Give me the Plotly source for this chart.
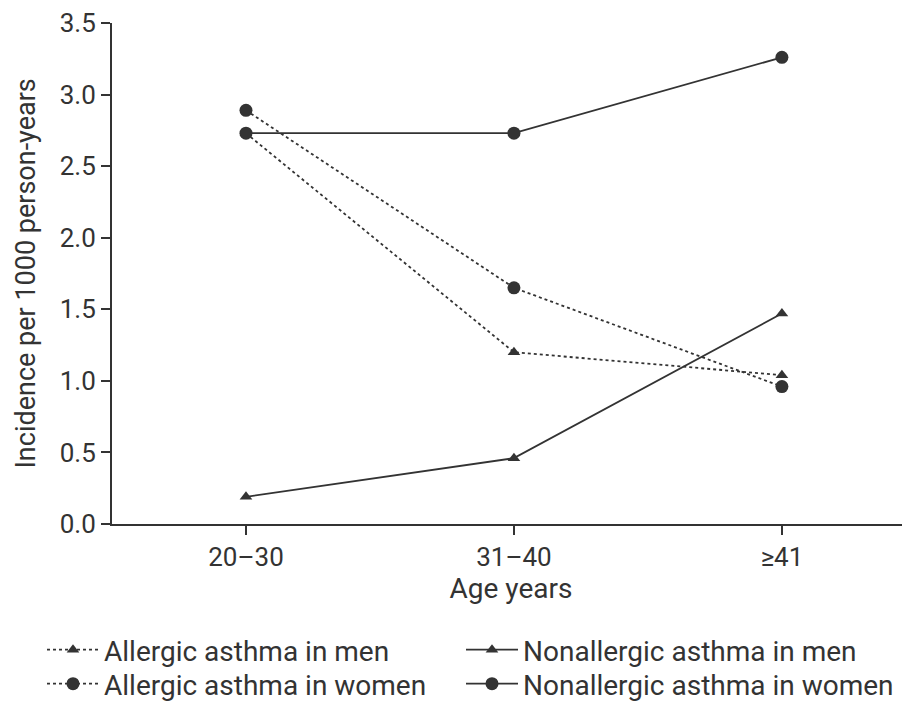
import plotly.graph_objects as go

ages = ["20\u201330", "31\u201340", "\u226541"]
allergic_men = [2.73, 1.20, 1.04]
allergic_women = [2.89, 1.65, 0.96]
nonallergic_men = [0.19, 0.46, 1.47]
nonallergic_women = [2.73, 2.73, 3.26]
y_ticks = [0.0, 0.5, 1.0, 1.5, 2.0, 2.5, 3.0, 3.5]

C = "#333333"
FONT = "Roboto, sans-serif"
W, H = 902, 696  # page body adds an 8px margin

fig = go.Figure()
series = [
    ("Allergic asthma in men", allergic_men, "3px,3px", "triangle-up", 11, "legend"),
    ("Nonallergic asthma in men", nonallergic_men, "solid", "triangle-up", 11, "legend2"),
    ("Allergic asthma in women", allergic_women, "3px,3px", "circle", 13, "legend3"),
    ("Nonallergic asthma in women", nonallergic_women, "solid", "circle", 13, "legend4"),
]
for name, vals, dash, sym, sz, leg in series:
    fig.add_trace(go.Scatter(
        x=ages, y=vals, name=name, mode="lines+markers",
        line=dict(color=C, width=1.8, dash=dash),
        marker=dict(symbol=sym, size=sz, color=C),
        legend=leg,
    ))

leg_common = dict(
    orientation="v", xref="container", yref="container",
    xanchor="left", yanchor="middle",
    font=dict(size=28, family=FONT, color=C),
    itemwidth=52, tracegroupgap=0, bgcolor="rgba(0,0,0,0)",
)
col_x = [34 / W, 453 / W]
row_y = [1 - 642 / H, 1 - 676 / H]

fig.update_layout(
    width=W, height=H,
    margin=dict(l=104, r=0, t=15, b=180, autoexpand=False),
    paper_bgcolor="white", plot_bgcolor="white",
    font=dict(family=FONT, size=26, color=C),
    showlegend=True,
    legend=dict(x=col_x[0], y=row_y[0], **leg_common),
    legend2=dict(x=col_x[1], y=row_y[0], **leg_common),
    legend3=dict(x=col_x[0], y=row_y[1], **leg_common),
    legend4=dict(x=col_x[1], y=row_y[1], **leg_common),
    xaxis=dict(
        type="category", range=[-0.5, 2.478], automargin=False,
        showline=True, linecolor=C, linewidth=2,
        ticks="outside", ticklen=9, tickwidth=1.5, tickcolor=C,
        showgrid=False, zeroline=False,
        title=dict(text="Age years", standoff=6, font=dict(size=28)),
        tickfont=dict(size=26),
    ),
    yaxis=dict(
        range=[0, 3.5], tickvals=y_ticks, tickformat=".1f", automargin=False,
        showline=True, linecolor=C, linewidth=2,
        ticks="outside", ticklen=9, tickwidth=1.5, tickcolor=C,
        showgrid=False, zeroline=False,
        tickfont=dict(size=26),
    ),
    annotations=[dict(
        text="Incidence per 1000 person-years", textangle=-90,
        xref="paper", yref="paper", x=(17 - 104) / 798, y=0.5,
        xanchor="center", yanchor="middle", showarrow=False,
        font=dict(size=27, family=FONT, color=C),
    )],
)

fig.write_html("out.html", config={"displayModeBar": False})
